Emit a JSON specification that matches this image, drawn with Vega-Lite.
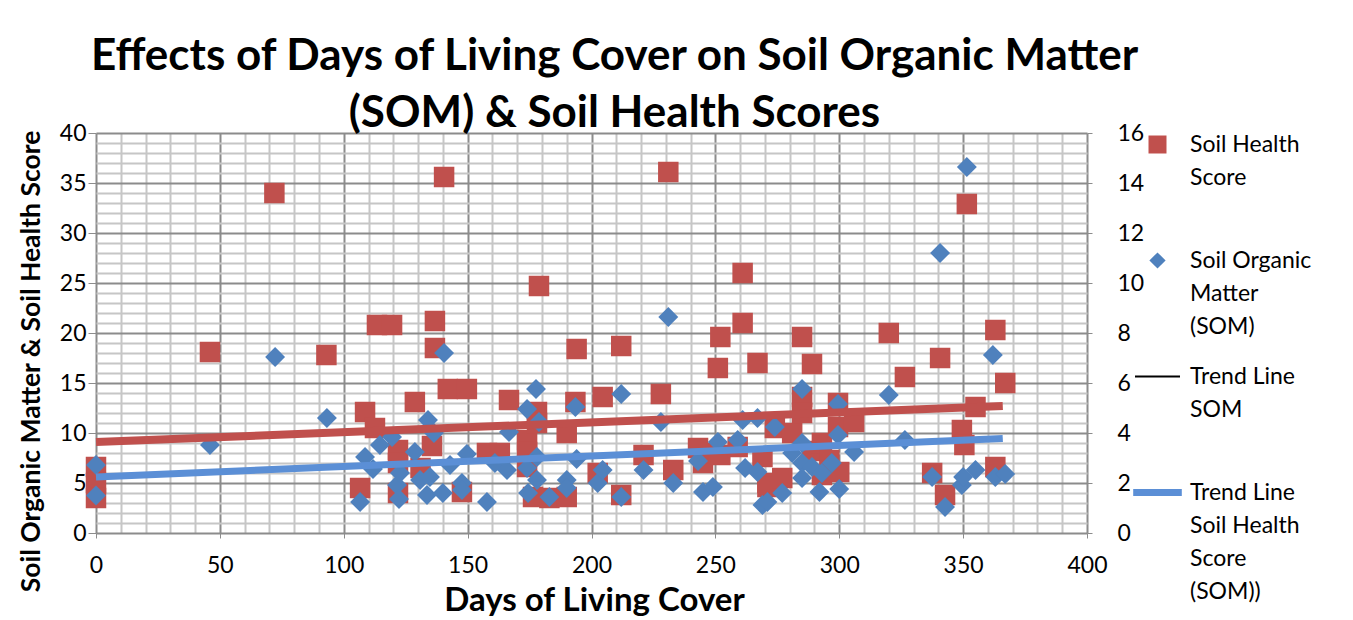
{
  "$schema": "https://vega.github.io/schema/vega-lite/v6.json",
  "width": 991,
  "height": 400,
  "autosize": {"type": "none"},
  "padding": {"left": 96, "top": 133, "right": 266, "bottom": 87},
  "background": "white",
  "config": {
    "view": {"stroke": null},
    "font": "Lato",
    "style": {"guide-label": {"lineHeight": 33}},
    "axis": {"labelFont": "Lato", "labelFontSize": 23, "labelColor": "black", "titleFont": "Lato", "titleColor": "black", "domain": false}
  },
  "title": {
    "text": ["Effects of Days of Living Cover on Soil Organic Matter", "(SOM) & Soil Health Scores"],
    "font": "Lato", "fontSize": 44, "fontWeight": "bold", "color": "black",
    "lineHeight": 57, "anchor": "middle", "dx": 23, "offset": -14
  },
  "datasets": {
    "shs": [
      {"days": 0, "score": 6.6}, {"days": 0, "score": 5.0}, {"days": 0, "score": 3.5},
      {"days": 46, "score": 18.1}, {"days": 72, "score": 34.0}, {"days": 93, "score": 17.8},
      {"days": 106.6, "score": 4.5}, {"days": 108.6, "score": 12.1}, {"days": 112.6, "score": 10.5},
      {"days": 113.4, "score": 20.8}, {"days": 119.5, "score": 20.8}, {"days": 121.9, "score": 8.3},
      {"days": 121.9, "score": 7.0}, {"days": 121.9, "score": 4.0}, {"days": 128.7, "score": 13.1},
      {"days": 131, "score": 6.5}, {"days": 135.6, "score": 8.7}, {"days": 136.8, "score": 21.2},
      {"days": 136.8, "score": 18.5}, {"days": 140.5, "score": 35.6}, {"days": 142, "score": 14.4},
      {"days": 149.7, "score": 14.4}, {"days": 147.7, "score": 4.1}, {"days": 157.8, "score": 8.0},
      {"days": 163, "score": 8.0}, {"days": 166.7, "score": 13.3}, {"days": 174, "score": 9.3},
      {"days": 174, "score": 8.1}, {"days": 174, "score": 6.6}, {"days": 178, "score": 12.1},
      {"days": 178, "score": 11.0}, {"days": 178.8, "score": 24.7}, {"days": 176.4, "score": 3.6},
      {"days": 183, "score": 3.5}, {"days": 190, "score": 10.0}, {"days": 190, "score": 3.6},
      {"days": 194, "score": 18.4}, {"days": 193.5, "score": 13.1}, {"days": 202.5, "score": 6.0},
      {"days": 204.5, "score": 13.6}, {"days": 212, "score": 18.7}, {"days": 212, "score": 3.8},
      {"days": 221, "score": 7.8}, {"days": 228, "score": 13.9}, {"days": 231, "score": 36.1},
      {"days": 233, "score": 6.3}, {"days": 243, "score": 8.5}, {"days": 245, "score": 7.0},
      {"days": 249, "score": 8.0}, {"days": 251, "score": 16.5}, {"days": 252, "score": 19.6},
      {"days": 252, "score": 7.8}, {"days": 259, "score": 8.6}, {"days": 261, "score": 26.0},
      {"days": 261, "score": 21.0}, {"days": 267, "score": 17.0}, {"days": 269, "score": 7.6},
      {"days": 271, "score": 5.0}, {"days": 271, "score": 4.6}, {"days": 274, "score": 10.5},
      {"days": 277, "score": 5.5}, {"days": 281, "score": 10.0}, {"days": 285, "score": 19.6},
      {"days": 285, "score": 13.6}, {"days": 285, "score": 12.0}, {"days": 289, "score": 16.9},
      {"days": 289, "score": 8.2}, {"days": 293, "score": 9.0}, {"days": 296, "score": 7.3},
      {"days": 293, "score": 5.8}, {"days": 299.5, "score": 13.0}, {"days": 299.5, "score": 10.6},
      {"days": 300, "score": 6.1}, {"days": 306, "score": 11.1}, {"days": 320, "score": 20.0},
      {"days": 326.5, "score": 15.6}, {"days": 337.5, "score": 6.0}, {"days": 340.7, "score": 17.5},
      {"days": 342.7, "score": 3.8}, {"days": 349.5, "score": 10.3}, {"days": 350.5, "score": 8.8},
      {"days": 351.5, "score": 32.9}, {"days": 355, "score": 12.6}, {"days": 363, "score": 20.3},
      {"days": 363, "score": 6.6}, {"days": 367, "score": 15.0}
    ],
    "som": [
      {"days": 0, "som": 2.72}, {"days": 0, "som": 1.5}, {"days": 46, "som": 3.52},
      {"days": 72.3, "som": 7.04}, {"days": 93.2, "som": 4.6}, {"days": 106.6, "som": 1.24},
      {"days": 108.6, "som": 3.04}, {"days": 111.8, "som": 2.56}, {"days": 114.6, "som": 3.52},
      {"days": 119.5, "som": 3.84}, {"days": 121.5, "som": 1.92}, {"days": 122.3, "som": 1.36},
      {"days": 122.7, "som": 2.4}, {"days": 128.7, "som": 3.24}, {"days": 130.8, "som": 2.12},
      {"days": 134, "som": 4.52}, {"days": 134.8, "som": 2.24}, {"days": 133.6, "som": 1.52},
      {"days": 136.4, "som": 4.0}, {"days": 140, "som": 1.6}, {"days": 140.5, "som": 7.2},
      {"days": 142.9, "som": 2.72}, {"days": 147.7, "som": 2.0}, {"days": 147.7, "som": 1.72},
      {"days": 149.7, "som": 3.16}, {"days": 157.8, "som": 1.24}, {"days": 161, "som": 2.8},
      {"days": 165.9, "som": 2.52}, {"days": 166.7, "som": 4.04}, {"days": 174, "som": 4.96},
      {"days": 174, "som": 2.6}, {"days": 174.4, "som": 1.6}, {"days": 177.6, "som": 5.76},
      {"days": 178, "som": 3.04}, {"days": 178, "som": 2.12}, {"days": 178.8, "som": 4.44},
      {"days": 183, "som": 1.44}, {"days": 190, "som": 2.12}, {"days": 190, "som": 1.8},
      {"days": 194, "som": 2.96}, {"days": 193.5, "som": 5.04}, {"days": 202.5, "som": 2.0},
      {"days": 204.5, "som": 2.52}, {"days": 212, "som": 5.56}, {"days": 212, "som": 1.44},
      {"days": 221, "som": 2.52}, {"days": 228, "som": 4.44}, {"days": 231, "som": 8.64},
      {"days": 233, "som": 2.0}, {"days": 243, "som": 2.88}, {"days": 245, "som": 1.64},
      {"days": 249, "som": 1.84}, {"days": 251, "som": 3.64}, {"days": 259, "som": 3.72},
      {"days": 261, "som": 4.52}, {"days": 262, "som": 2.6}, {"days": 267, "som": 4.6},
      {"days": 267, "som": 2.44}, {"days": 269, "som": 1.12}, {"days": 271, "som": 1.24},
      {"days": 274, "som": 4.24}, {"days": 277, "som": 1.6}, {"days": 281, "som": 3.2},
      {"days": 285, "som": 5.76}, {"days": 285, "som": 3.6}, {"days": 285, "som": 2.8},
      {"days": 285, "som": 2.2}, {"days": 289, "som": 2.64}, {"days": 292, "som": 1.64},
      {"days": 293, "som": 2.4}, {"days": 297, "som": 2.8}, {"days": 299.5, "som": 5.16},
      {"days": 299.5, "som": 3.92}, {"days": 300, "som": 1.76}, {"days": 306, "som": 3.24},
      {"days": 320, "som": 5.52}, {"days": 326.5, "som": 3.72}, {"days": 337.5, "som": 2.24},
      {"days": 340.7, "som": 11.2}, {"days": 342.7, "som": 1.04}, {"days": 349.5, "som": 1.92},
      {"days": 350, "som": 2.24}, {"days": 351.5, "som": 14.64}, {"days": 355, "som": 2.52},
      {"days": 362, "som": 7.12}, {"days": 363, "som": 2.24}, {"days": 367, "som": 2.36}
    ],
    "trendShs": [{"days": 0, "value": 9.1}, {"days": 366, "value": 12.7}],
    "trendSom": [{"days": 0, "value": 2.24}, {"days": 366, "value": 3.78}]
  },
  "encoding": {
    "x": {
      "field": "days", "type": "quantitative",
      "scale": {"domain": [0, 400], "nice": false, "zero": false},
      "axis": {
        "values": [0,10,20,30,40,50,60,70,80,90,100,110,120,130,140,150,160,170,180,190,200,210,220,230,240,250,260,270,280,290,300,310,320,330,340,350,360,370,380,390,400],
        "labelExpr": "datum.value % 50 === 0 ? datum.label : ''",
        "grid": true,
        "gridColor": {"condition": {"test": "datum.value % 50 === 0", "value": "#8c8c8c"}, "value": "#c6c6c6"},
        "gridWidth": 2,
        "tickColor": "#8c8c8c",
        "tickSize": 5,
        "tickOpacity": {"condition": {"test": "datum.value % 50 === 0", "value": 1}, "value": 0},
        "labelPadding": 16,
        "labelFlush": false,
        "labelOverlap": false,
        "title": "Days of Living Cover",
        "titleFontSize": 33,
        "titleFontWeight": "bold",
        "titleX": 498,
        "titleY": 77,
        "titleBaseline": "alphabetic"
      }
    }
  },
  "resolve": {"scale": {"y": "independent"}},
  "layer": [
    {
      "data": {"name": "shs"},
      "mark": {"type": "point", "filled": true, "opacity": 1, "size": 420},
      "encoding": {
        "y": {
          "field": "score", "type": "quantitative",
          "scale": {"domain": [0, 40], "nice": false},
          "axis": {
            "values": [0,1,2,3,4,5,6,7,8,9,10,11,12,13,14,15,16,17,18,19,20,21,22,23,24,25,26,27,28,29,30,31,32,33,34,35,36,37,38,39,40],
            "labelExpr": "datum.value % 5 === 0 ? datum.label : ''",
            "labelOverlap": false,
            "grid": true,
            "gridColor": {"condition": {"test": "datum.value % 5 === 0", "value": "#8c8c8c"}, "value": "#c6c6c6"},
            "gridWidth": 2,
            "tickColor": "#8c8c8c",
            "tickSize": 8,
            "tickOpacity": {"condition": {"test": "datum.value % 5 === 0", "value": 1}, "value": 0},
            "labelPadding": 2,
            "title": "Soil Organic Matter  & Soil Health Score",
            "titleFontSize": 26.5,
            "titleFontWeight": "bold",
            "titleAngle": -90,
            "titleX": -57,
            "titleY": 228,
            "titleAlign": "center",
            "titleBaseline": "alphabetic"
          }
        },
        "color": {
          "datum": "Soil Health Score",
          "scale": {
            "domain": ["Soil Health Score", "Soil Organic Matter (SOM)", "Trend Line SOM", "Trend Line Soil Health Score"],
            "range": ["#c0504d", "#4f81bd", "#000000", "#5b8fd6"]
          },
          "legend": {
            "title": null,
            "orient": "none",
            "legendX": 1050,
            "legendY": 0,
            "symbolSize": 324,
            "symbolStrokeWidth": 0,
            "labelFont": "Lato",
            "labelFontSize": 23,
            "labelColor": "black",
            "labelOffset": 21,
            "labelBaseline": "middle",
            "labelLimit": 300,
            "rowPadding": 26,
            "labelExpr": "datum.label == 'Soil Health Score' ? ['Soil Health', 'Score', ''] : datum.label == 'Soil Organic Matter (SOM)' ? ['Soil Organic', 'Matter', '(SOM)'] : datum.label == 'Trend Line SOM' ? ['Trend Line', 'SOM', ''] : ['Trend Line', 'Soil Health', 'Score', '(SOM))']",
            "encode": {"labels": {"lineHeight": {"value": 33}, "dx": {"signal": "datum.index >= 2 ? 11 : 0"}}}
          }
        },
        "shape": {
          "datum": "Soil Health Score",
          "scale": {
            "domain": ["Soil Health Score", "Soil Organic Matter (SOM)", "Trend Line SOM", "Trend Line Soil Health Score"],
            "range": ["M-1,-1H1V1H-1Z", "M-0.9,0L0,-0.9L0.9,0L0,0.9Z", "M-2.5,-0.1H2.5V0.1H-2.5Z", "M-2.7,-0.4H2.7V0.4H-2.7Z"]
          }
        }
      }
    },
    {
      "data": {"name": "som"},
      "mark": {"type": "point", "filled": true, "opacity": 1, "size": 490},
      "encoding": {
        "y": {
          "field": "som", "type": "quantitative",
          "scale": {"domain": [0, 16], "nice": false},
          "axis": {
            "orient": "right",
            "values": [0,2,4,6,8,10,12,14,16],
            "grid": false,
            "tickColor": "#8c8c8c",
            "tickSize": 5,
            "labelPadding": 25,
            "title": null
          }
        },
        "color": {"datum": "Soil Organic Matter (SOM)"},
        "shape": {"datum": "Soil Organic Matter (SOM)"}
      }
    },
    {
      "data": {"name": "trendShs"},
      "mark": {"type": "line", "color": "#c0504d", "strokeWidth": 8},
      "encoding": {
        "y": {"field": "value", "type": "quantitative", "scale": {"domain": [0, 40], "nice": false}, "axis": null}
      }
    },
    {
      "data": {"name": "trendSom"},
      "mark": {"type": "line", "color": "#5b8fd6", "strokeWidth": 7},
      "encoding": {
        "y": {"field": "value", "type": "quantitative", "scale": {"domain": [0, 16], "nice": false}, "axis": null}
      }
    }
  ]
}
